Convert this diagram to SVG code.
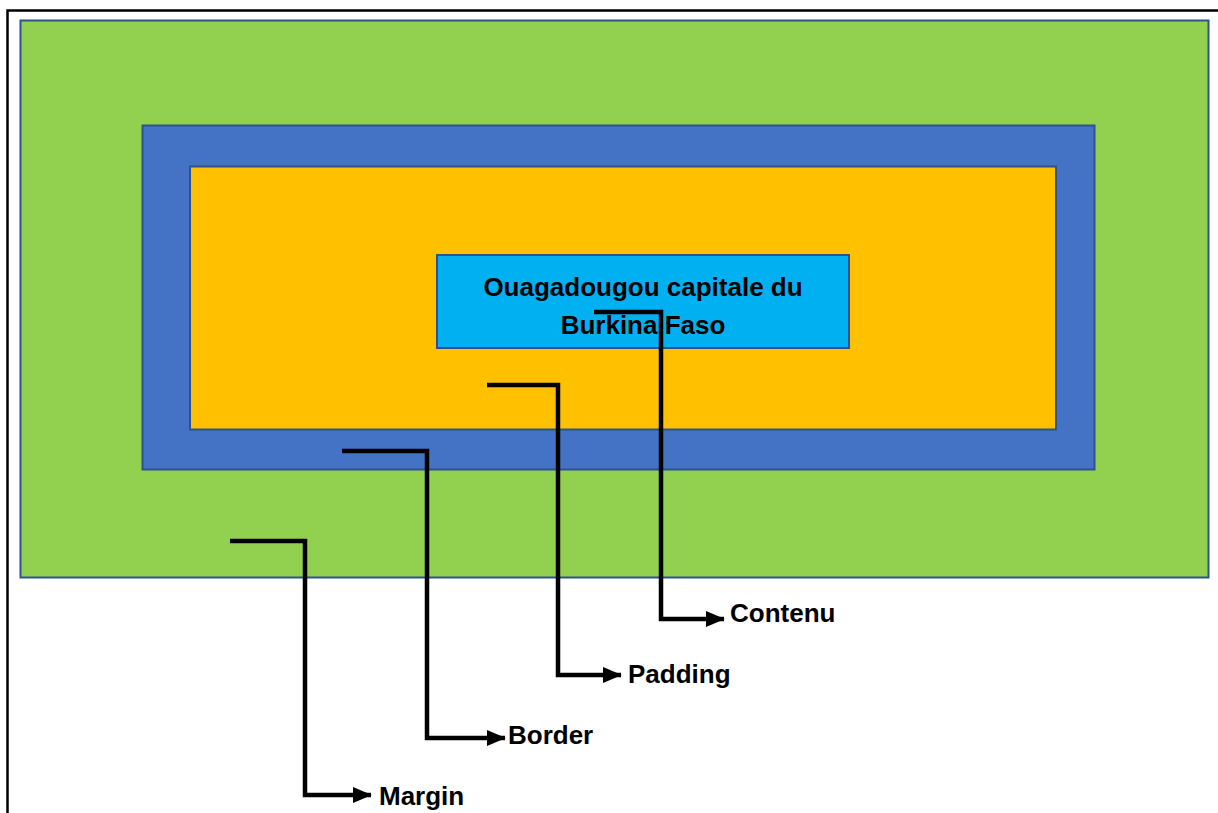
<svg xmlns="http://www.w3.org/2000/svg" width="1218" height="813" viewBox="0 0 1218 813">
  <style>
    .box { stroke: #2F528F; stroke-width: 2; }
    .lead { fill: none; stroke: #000; stroke-width: 4.5; stroke-linejoin: miter; }
    .lbl { font-family: "Liberation Sans", Arial, sans-serif; font-weight: bold; font-size: 26px; fill: #000; }
  </style>
  <defs>
    <marker id="arrow" markerWidth="6" markerHeight="6" refX="4" refY="3" orient="auto" markerUnits="strokeWidth">
      <path d="M0,1.2 L4.2,3 L0,4.8 Z" fill="#000"/>
    </marker>
  </defs>

  <rect width="1218" height="813" fill="#fff"/>

  <!-- outer frame (top and left edges) -->
  <path d="M7.5,813 V10.5 H1218" fill="none" stroke="#000" stroke-width="2.5"/>

  <g id="margin">
    <rect class="box" x="20.5" y="20.5" width="1188" height="557" fill="#92D050"/>
  </g>
  <g id="border">
    <rect class="box" x="142.5" y="125.5" width="952" height="344" fill="#4472C4"/>
  </g>
  <g id="padding">
    <rect class="box" x="190" y="166.5" width="866" height="263" fill="#FFC000"/>
  </g>
  <g id="contenu">
    <rect class="box" x="437" y="255" width="412" height="93" fill="#00B0F0"/>
    <text class="lbl" x="643" y="296" text-anchor="middle">Ouagadougou capitale du</text>
    <text class="lbl" x="643" y="334" text-anchor="middle">Burkina Faso</text>
  </g>

  <g id="connectors">
    <path class="lead" d="M594,312 H661 V619 H724" marker-end="url(#arrow)"/>
    <path class="lead" d="M487,385 H558 V675 H621" marker-end="url(#arrow)"/>
    <path class="lead" d="M342,451 H427 V738 H505" marker-end="url(#arrow)"/>
    <path class="lead" d="M230,541 H305 V795 H371" marker-end="url(#arrow)"/>
  </g>

  <g id="labels">
    <text class="lbl" x="730" y="622">Contenu</text>
    <text class="lbl" x="628" y="683">Padding</text>
    <text class="lbl" x="508" y="744">Border</text>
    <text class="lbl" x="379" y="805">Margin</text>
  </g>
</svg>
